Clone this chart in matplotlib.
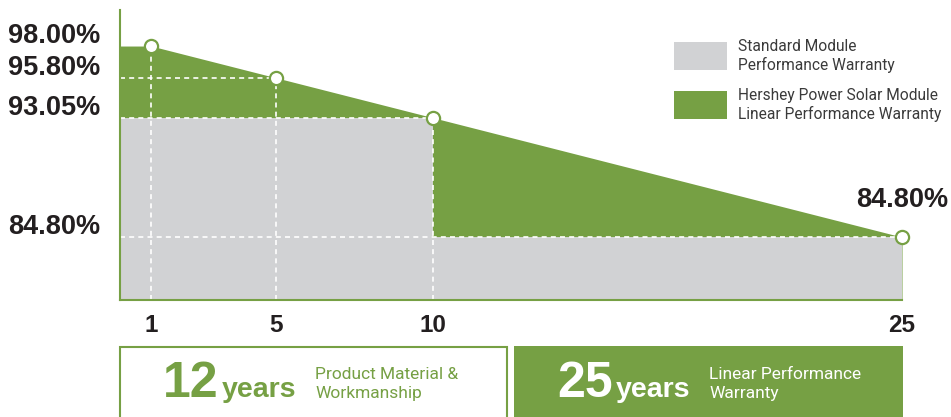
import matplotlib.pyplot as plt
from matplotlib.patches import Rectangle

# Data
years = [0, 1, 5, 10, 25]
hershey = [98.0, 98.0, 95.8, 93.05, 84.8]
std_years = [0, 10, 10, 25]
standard = [93.05, 93.05, 84.8, 84.8]
mark_years = [1, 5, 10, 25]
mark_vals = [98.0, 95.8, 93.05, 84.8]
ylabels = ["98.00%", "95.80%", "93.05%", "84.80%"]
xticks = [1, 5, 10, 25]

green = "#76a044"
gray = "#d1d2d4"
dark = "#231f20"

W, H = 951, 417
fig = plt.figure(figsize=(W / 100, H / 100), dpi=100)
ax = fig.add_axes([120 / W, 1 - 300 / H, (902 - 120) / W, 290 / H])
ymin, ymax = 80.45, 100.49
ax.set_xlim(0, 25)
ax.set_ylim(ymin, ymax)

# areas
ax.fill_between(years, hershey, ymin, color=green, lw=0)
ax.fill_between(std_years, standard, ymin, color=gray, lw=0)

# dashed guide lines
dash = dict(color="white", lw=1.2, ls=(0, (3, 2.5)))
for x, v in zip(mark_years[:3], mark_vals[:3]):
    ax.plot([x, x], [ymin, v], **dash)
for x, v in zip(mark_years[1:], mark_vals[1:]):
    ax.plot([0, x], [v, v], **dash)

ax.plot(mark_years, mark_vals, ls="none", marker="o", ms=9.5, mfc="white",
        mec=green, mew=1.6, clip_on=False, zorder=5)

# value labels
for v, lab in zip(mark_vals, ylabels):
    ax.annotate(lab, xy=(0, v), xycoords=("axes fraction", "data"),
                xytext=(-20, 10), textcoords="offset pixels", ha="right",
                va="center", fontsize=19.5, fontweight="bold", color=dark,
                family="Liberation Sans")
ax.annotate(ylabels[-1], xy=(mark_years[-1], mark_vals[-1]), xytext=(0, 37),
            textcoords="offset pixels", ha="center", va="center",
            fontsize=19.5, fontweight="bold", color=dark,
            family="Liberation Sans", annotation_clip=False)

ax.set_xticks(xticks)
ax.set_xticklabels([str(t) for t in xticks], fontsize=17.5, fontweight="bold",
                   color=dark, family="Liberation Sans")
ax.tick_params(axis="x", length=0, pad=10)
ax.set_yticks([])
for s in ["top", "right"]:
    ax.spines[s].set_visible(False)
for s in ["left", "bottom"]:
    ax.spines[s].set_color(green)
    ax.spines[s].set_linewidth(1.5)

# legend
tf = fig.transFigure
for y0, col, lines in [(42, gray, "Standard Module\nPerformance Warranty"),
                       (91, green, "Hershey Power Solar Module\nLinear Performance Warranty")]:
    fig.patches.append(Rectangle((674 / W, 1 - (y0 + 28) / H), 53 / W, 28 / H,
                                 transform=tf, color=col, lw=0))
    fig.text(738 / W, 1 - (y0 + 14) / H, lines, transform=tf, ha="left",
             va="center", fontsize=11.2, color="#3a3a3a", family="Roboto",
             linespacing=1.25)

# bottom boxes
fig.patches.append(Rectangle((120 / W, -0.05), (507 - 120) / W, 1 - 347 / H + 0.05,
                             transform=tf, facecolor="white", edgecolor=green, lw=1.5))
fig.patches.append(Rectangle((514 / W, -0.05), (903 - 514) / W, 1 - 346 / H + 0.05,
                             transform=tf, facecolor=green, lw=0))

for x0, num, col, desc in [(163, "12", green, "Product Material &\nWorkmanship"),
                           (557, "25", "white", "Linear Performance\nWarranty")]:
    fig.text(x0 / W, 1 - 397 / H, num, transform=tf, ha="left", va="baseline",
             fontsize=36, fontweight="bold", color=col, family="Liberation Sans")
    fig.text((x0 + 59) / W, 1 - 397 / H, "years", transform=tf, ha="left",
             va="baseline", fontsize=20.5, fontweight="bold", color=col,
             family="Liberation Sans")
    fig.text((x0 + 152) / W, 1 - 384 / H, desc, transform=tf, ha="left",
             va="center", fontsize=12.5, color=col, family="Roboto", linespacing=1.4)

fig.savefig("out.png", dpi=100)
